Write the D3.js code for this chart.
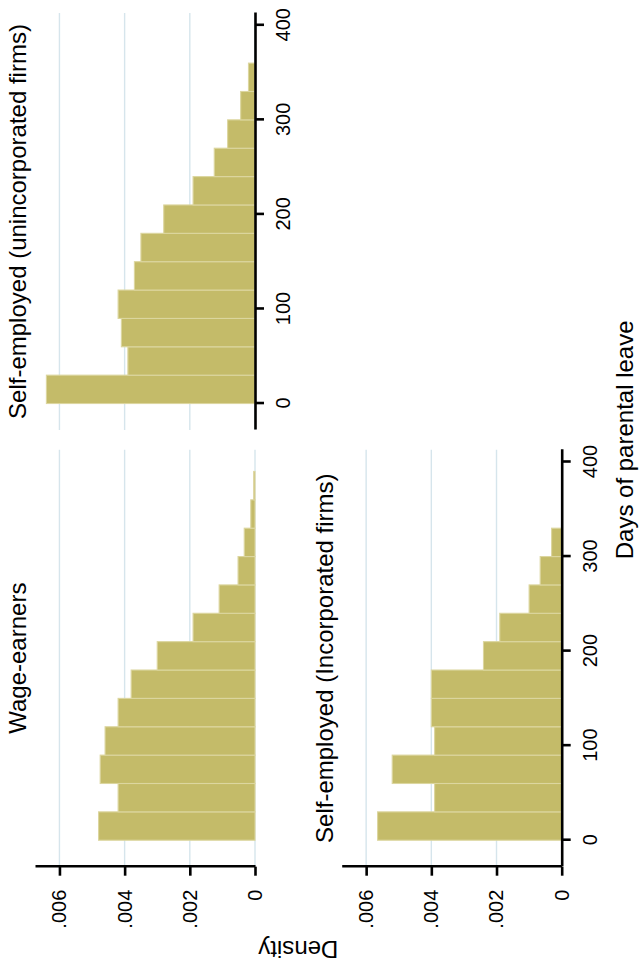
<!DOCTYPE html>
<html>
<head>
<meta charset="utf-8">
<script src="https://cdn.jsdelivr.net/npm/d3@7/dist/d3.min.js"></script>
<style>
  body { margin: 0; background: #ffffff; }
  svg { display: block; }
  text { font-family: "Liberation Sans", Arial, Helvetica, sans-serif; fill: #000; }
</style>
</head>
<body>
<svg id="chart" width="641" height="971"></svg>
<script>
// Histogram bins: 30-day bins starting at 0 days
const binWidth = 30;
const binStarts = [0, 30, 60, 90, 120, 150, 180, 210, 240, 270, 300, 330, 360];

// Density per bin for each group
const wageEarners        = [0.0048, 0.0042, 0.00475, 0.0046, 0.0042, 0.0038, 0.0030, 0.0019, 0.0011, 0.00052, 0.00033, 0.00013, 0.00004];
const selfUnincorporated = [0.0064, 0.0039, 0.0041, 0.0042, 0.0037, 0.0035, 0.0028, 0.0019, 0.00125, 0.00084, 0.00044, 0.0002];
const selfIncorporated   = [0.00565, 0.0039, 0.0052, 0.0039, 0.0040, 0.0040, 0.0024, 0.0019, 0.0010, 0.00066, 0.00031];

const panelTitles = ["Wage-earners", "Self-employed (unincorporated firms)", "Self-employed (Incorporated firms)"];

const dayTicks = [0, 100, 200, 300, 400];
const densityTicks = [0, 0.002, 0.004, 0.006];
const densityTickLabels = ["0", ".002", ".004", ".006"];

const xTitle = "Days of parental leave";
const yTitle = "Density";

// The figure is laid out landscape (971 x 641) and turned a quarter turn on the page
const W = 971, H = 641;
const plotW = 417, plotH = 220;

const svg = d3.select("#chart");
const root = svg.append("g").attr("transform", `translate(0,${W}) rotate(-90)`);

const x = d3.scaleLinear().domain([-28, 413]).range([0, plotW]);
const y = d3.scaleLinear().domain([0, 0.00675]).range([plotH, 0]);

const panels = [
  { title: panelTitles[0], values: wageEarners,        left: 104.3, top: 35,    yAxis: true,  xAxis: false },
  { title: panelTitles[1], values: selfUnincorporated, left: 541,   top: 35,    yAxis: false, xAxis: true  },
  { title: panelTitles[2], values: selfIncorporated,   left: 104.3, top: 341.7, yAxis: true,  xAxis: true  }
];

const barFill = "#c4bb69";
const barEdge = "#dcd69f";
const gridColor = "#d6e5ec";

panels.forEach(p => {
  const g = root.append("g").attr("transform", `translate(${p.left},${p.top})`);

  // horizontal grid at labelled densities
  g.append("g").selectAll("line")
    .data(densityTicks)
    .join("line")
    .attr("x1", 0).attr("x2", plotW)
    .attr("y1", d => y(d)).attr("y2", d => y(d))
    .attr("stroke", gridColor)
    .attr("stroke-width", 1.4);

  // histogram bars
  g.append("g").selectAll("rect")
    .data(p.values.map((v, i) => ({ start: binStarts[i], v })))
    .join("rect")
    .attr("x", d => x(d.start))
    .attr("width", d => x(d.start + binWidth) - x(d.start))
    .attr("y", d => y(d.v))
    .attr("height", d => y(0) - y(d.v))
    .attr("fill", barFill)
    .attr("stroke", barEdge)
    .attr("stroke-width", 1.1);

  // panel title
  g.append("text")
    .attr("x", plotW / 2)
    .attr("y", -9)
    .attr("text-anchor", "middle")
    .style("font-size", "24px")
    .text(p.title);

  if (p.xAxis) {
    const ax = g.append("g")
      .attr("transform", `translate(0,${plotH})`)
      .call(d3.axisBottom(x).tickValues(dayTicks).tickSize(9).tickSizeOuter(0).tickPadding(12));
    ax.select(".domain").attr("stroke", "#000").attr("stroke-width", 2.6);
    ax.selectAll(".tick line").attr("stroke", "#000").attr("stroke-width", 2.6);
    ax.selectAll(".tick text").style("font-size", "20px").attr("fill", "#000");
  }

  if (p.yAxis) {
    const ay = g.append("g")
      .call(d3.axisLeft(y).tickValues(densityTicks)
        .tickFormat((d, i) => densityTickLabels[i])
        .tickSize(9).tickSizeOuter(0).tickPadding(14));
    ay.select(".domain").attr("stroke", "#000").attr("stroke-width", 2.6);
    ay.selectAll(".tick line").attr("stroke", "#000").attr("stroke-width", 2.6);
    ay.selectAll(".tick text").style("font-size", "20px").attr("fill", "#000");
  }
});

// shared axis titles
root.append("text")
  .attr("x", (104.3 + 541 + plotW) / 2)
  .attr("y", 633)
  .attr("text-anchor", "middle")
  .style("font-size", "24px")
  .text(xTitle);

root.append("text")
  .attr("transform", `translate(30,${(35 + 341.7 + plotH) / 2}) rotate(-90)`)
  .attr("text-anchor", "middle")
  .style("font-size", "24px")
  .text(yTitle);
</script>
</body>
</html>
